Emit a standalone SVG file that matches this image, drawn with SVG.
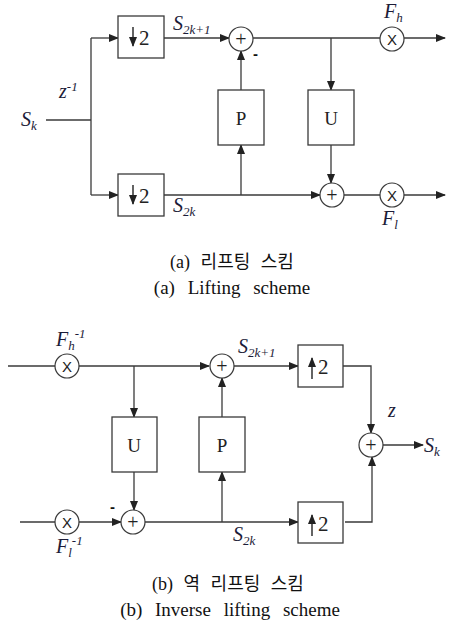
<svg xmlns="http://www.w3.org/2000/svg" width="449" height="624" viewBox="0 0 449 624">
<style>
.ln{stroke:#3a3a3a;stroke-width:1.3;fill:none}
.bx{stroke:#3a3a3a;stroke-width:1.3;fill:#fff}
.ci{stroke:#3a3a3a;stroke-width:1.2;fill:#fff}
.lb{font-family:"Liberation Serif",serif;font-style:italic;fill:#1c1c38;font-size:20px}
.sb{font-size:13px}
.op{font-family:"Liberation Serif",serif;fill:#222;font-size:20px;text-anchor:middle}
.ox{font-family:"Liberation Sans",sans-serif;fill:#222;font-size:15px;text-anchor:middle}
.bt{font-family:"Liberation Serif",serif;fill:#222;font-size:19px;text-anchor:middle}
.two{font-family:"Liberation Serif",serif;fill:#222;font-size:21px}
.arr{stroke:#222;stroke-width:1.4}
.cap{font-family:"Liberation Serif","Noto Sans CJK KR",serif;fill:#111;font-size:19px;text-anchor:middle;word-spacing:8px}
.capk{font-family:"Liberation Serif","Noto Sans CJK KR",serif;fill:#111;font-size:18px;text-anchor:middle;word-spacing:6px}
</style>
<defs>
<marker id="ah" markerWidth="10" markerHeight="8" refX="9" refY="4" orient="auto" markerUnits="userSpaceOnUse">
<path d="M0,0 L10,4 L0,8 z" fill="#222"/>
</marker>
</defs>
<rect width="449" height="624" fill="#fff"/>

<g id="connectors">
<!-- (a) -->
<line class="ln" x1="46" y1="120" x2="91" y2="120"/>
<line class="ln" x1="91" y1="38" x2="91" y2="195"/>
<line class="ln" x1="91" y1="38" x2="118" y2="38" marker-end="url(#ah)"/>
<line class="ln" x1="91" y1="195" x2="118" y2="195" marker-end="url(#ah)"/>
<line class="ln" x1="164" y1="38" x2="229" y2="38" marker-end="url(#ah)"/>
<line class="ln" x1="164" y1="195" x2="320" y2="195" marker-end="url(#ah)"/>
<line class="ln" x1="241" y1="195" x2="241" y2="145" marker-end="url(#ah)"/>
<line class="ln" x1="241" y1="90" x2="241" y2="51" marker-end="url(#ah)"/>
<line class="ln" x1="253" y1="38" x2="445" y2="38" marker-end="url(#ah)"/>
<line class="ln" x1="331" y1="38" x2="331" y2="90" marker-end="url(#ah)"/>
<line class="ln" x1="331" y1="145" x2="331" y2="183" marker-end="url(#ah)"/>
<line class="ln" x1="344" y1="195" x2="445" y2="195" marker-end="url(#ah)"/>
<!-- (b) -->
<line class="ln" x1="8" y1="366" x2="209" y2="366" marker-end="url(#ah)"/>
<line class="ln" x1="134" y1="366" x2="134" y2="417" marker-end="url(#ah)"/>
<line class="ln" x1="134" y1="472" x2="134" y2="510" marker-end="url(#ah)"/>
<line class="ln" x1="20" y1="522" x2="121" y2="522" marker-end="url(#ah)"/>
<line class="ln" x1="145" y1="522" x2="298" y2="522" marker-end="url(#ah)"/>
<line class="ln" x1="222" y1="522" x2="222" y2="472" marker-end="url(#ah)"/>
<line class="ln" x1="222" y1="417" x2="222" y2="378" marker-end="url(#ah)"/>
<line class="ln" x1="234" y1="366" x2="298" y2="366" marker-end="url(#ah)"/>
<polyline class="ln" points="343,366 371,366 371,433" marker-end="url(#ah)"/>
<polyline class="ln" points="345,522 372,522 372,457" marker-end="url(#ah)"/>
<line class="ln" x1="383" y1="445" x2="423" y2="445" marker-end="url(#ah)"/>
</g>

<!-- (a) nodes -->
<g id="ds_top"><rect class="bx" x="118" y="16" width="46" height="42"/><line class="arr" x1="133" y1="27" x2="133" y2="46" marker-end="url(#ah)"/><text class="two" x="139" y="45">2</text></g>
<g id="ds_bot"><rect class="bx" x="118" y="174" width="46" height="42"/><line class="arr" x1="133" y1="185" x2="133" y2="204" marker-end="url(#ah)"/><text class="two" x="139" y="203">2</text></g>
<g id="add_a1"><circle class="ci" cx="241" cy="39" r="12"/><text class="op" x="241" y="46">+</text></g>
<g id="P_a"><rect class="bx" x="218" y="90" width="46" height="55"/><text class="bt" x="241" y="125">P</text></g>
<g id="U_a"><rect class="bx" x="308" y="90" width="46" height="55"/><text class="bt" x="331" y="125">U</text></g>
<g id="add_a2"><circle class="ci" cx="332" cy="195" r="12"/><text class="op" x="332" y="202">+</text></g>
<g id="mul_h"><circle class="ci" cx="392" cy="39" r="12"/><text class="ox" x="392" y="44.5">X</text></g>
<g id="mul_l"><circle class="ci" cx="392" cy="195" r="12"/><text class="ox" x="392" y="200.5">X</text></g>

<g id="labels_a">
<text class="lb" x="21" y="126">S<tspan class="sb" dy="4">k</tspan></text>
<text class="lb" x="59" y="98" font-size="15">z<tspan class="sb" dy="-7">-1</tspan></text>
<text class="lb" x="173" y="30">S<tspan class="sb" dy="4">2k+1</tspan></text>
<text class="lb" x="173" y="212">S<tspan class="sb" dy="4">2k</tspan></text>
<text x="253" y="59" font-family="Liberation Sans,sans-serif" font-size="15" font-weight="bold" fill="#111">-</text>
<text class="lb" x="384" y="18">F<tspan class="sb" dy="4">h</tspan></text>
<text class="lb" x="382" y="225">F<tspan class="sb" dy="4">l</tspan></text>
</g>
<text class="capk" x="232" y="268">(a) 리프팅 스킴</text>
<text class="cap" x="232" y="294">(a) Lifting scheme</text>

<!-- (b) nodes -->
<g id="mul_hinv"><circle class="ci" cx="67" cy="366" r="12"/><text class="ox" x="67" y="371.5">X</text></g>
<g id="mul_linv"><circle class="ci" cx="67" cy="522" r="12"/><text class="ox" x="67" y="527.5">X</text></g>
<g id="U_b"><rect class="bx" x="112" y="417" width="45" height="55"/><text class="bt" x="134" y="452">U</text></g>
<g id="P_b"><rect class="bx" x="199" y="417" width="46" height="55"/><text class="bt" x="222" y="452">P</text></g>
<g id="add_b1"><circle class="ci" cx="222" cy="366" r="12"/><text class="op" x="222" y="373">+</text></g>
<g id="add_b2"><circle class="ci" cx="133" cy="522" r="12"/><text class="op" x="133" y="529">+</text></g>
<g id="us_top"><rect class="bx" x="298" y="345" width="45" height="42"/><line class="arr" x1="312" y1="379" x2="312" y2="358" marker-end="url(#ah)"/><text class="two" x="318" y="374">2</text></g>
<g id="us_bot"><rect class="bx" x="298" y="502" width="45" height="41"/><line class="arr" x1="312" y1="536" x2="312" y2="515" marker-end="url(#ah)"/><text class="two" x="318" y="531">2</text></g>
<g id="add_out"><circle class="ci" cx="371" cy="445" r="12"/><text class="op" x="371" y="452">+</text></g>

<g id="labels_b">
<text class="lb" x="56" y="346">F<tspan class="sb" dy="4">h</tspan><tspan class="sb" dy="-12">-1</tspan></text>
<text class="lb" x="56" y="553">F<tspan class="sb" dy="4">l</tspan><tspan class="sb" dy="-12">-1</tspan></text>
<text class="lb" x="238" y="353">S<tspan class="sb" dy="4">2k+1</tspan></text>
<text class="lb" x="233" y="541">S<tspan class="sb" dy="4">2k</tspan></text>
<text class="lb" x="388" y="417" font-size="14">z</text>
<text class="lb" x="424" y="452">S<tspan class="sb" dy="4">k</tspan></text>
<text x="110" y="512" font-family="Liberation Sans,sans-serif" font-size="15" font-weight="bold" fill="#111">-</text>
</g>
<text class="capk" x="228" y="590">(b) 역 리프팅 스킴</text>
<text class="cap" x="230" y="616">(b) Inverse lifting scheme</text>
</svg>
